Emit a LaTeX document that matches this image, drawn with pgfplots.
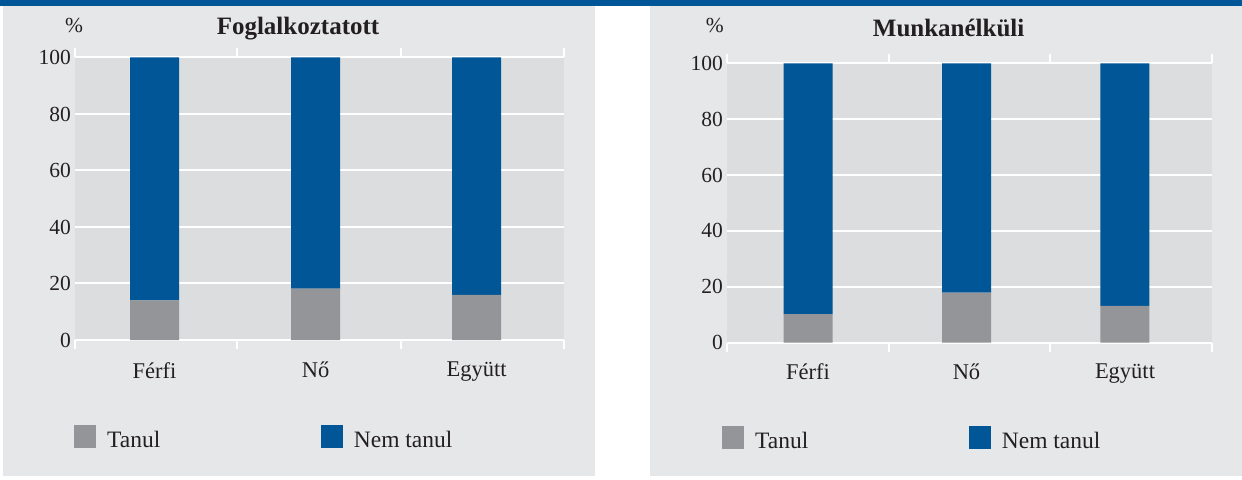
\documentclass[border=0pt]{standalone}
\usepackage{fontspec}
\setmainfont{Liberation Serif}
\usepackage{pgfplots}
\pgfplotsset{compat=1.18}
\definecolor{mnbblue}{RGB}{0,86,151}
\definecolor{bargrey}{RGB}{147,149,152}
\definecolor{panelbg}{RGB}{230,231,233}
\definecolor{plotbg}{RGB}{220,221,223}
\definecolor{txt}{RGB}{35,31,32}

\pgfplotsset{
  mystyle/.style={
    scale only axis,
    ybar stacked,
    bar width=49bp,
    ymin=0, ymax=100,
    ytick={0,20,40,60,80,100},
    ymajorgrids,
    grid style={white, line width=2bp},
    axis line style={draw=none},
    axis background/.style={fill=plotbg},
    ytick style={draw=none},
    xtick style={draw=none},
    major tick length=0pt,
    tick align=outside,
    xtick={0,1,2},
    xticklabels={Férfi,Nő,Együtt},
    extra x tick labels={},
    extra x tick style={major tick length=9bp, xtick style={draw=white, line width=2bp}, grid=none},
    /pgf/number format/assume math mode=true,
    yticklabel style={font=\fontsize{21.5bp}{25bp}\selectfont, anchor=east, inner sep=0pt, xshift=-4bp, text=txt},
    xticklabel style={font=\fontsize{22.5bp}{26bp}\selectfont, anchor=north, inner sep=0pt, text=txt},
    every axis title shift=0pt,
    title style={font=\bfseries\fontsize{25bp}{29bp}\selectfont, anchor=center, text=txt, inner sep=0pt, yshift=0pt},
    every axis y label/.style={font=\fontsize{21.5bp}{25bp}\selectfont, anchor=center, text=txt, inner sep=0pt},
    ylabel={\%},
    legend columns=2,
    legend cell align=left,
    legend style={draw=none, fill=none, inner sep=0pt, anchor=south west,
      font=\fontsize{23.5bp}{27bp}\selectfont,
      nodes={inner sep=0pt, text=txt},
      /tikz/every odd column/.append style={column sep=11bp},
      /tikz/every even column/.append style={column sep=160.5bp}},
    legend image code/.code={\fill[##1] (0bp,-7.8bp) rectangle (22bp,15.2bp);},
  }
}

\begin{document}
\begin{tikzpicture}
\useasboundingbox (0,0) rectangle (1242bp,480bp);
\fill[white] (0,0) rectangle (1242bp,480bp);
\fill[mnbblue] (0,474bp) rectangle (1242bp,480bp);
\fill[panelbg] (3bp,4bp) rectangle (595bp,474bp);
\fill[panelbg] (650bp,4bp) rectangle (1242bp,474bp);

\begin{axis}[mystyle,
  at={(75bp,140bp)}, anchor=south west,
  width=489bp, height=282.5bp,
  xmin=-0.494, xmax=2.543,
  extra x ticks={-0.493,0.512,1.531,2.542},
  xticklabel style={yshift=-22bp},
  title={Foglalkoztatott},
  title style={at={(axis description cs:0.456,1.104)}},
  every axis y label/.append style={at={(axis description cs:-0.002,1.115)}},
  legend style={at={(axis description cs:-0.002,-0.386)}},
]
\addplot+[fill=bargrey, draw=none] coordinates {(0,14.0) (1,18.2) (2,16.0)};
\addplot+[fill=mnbblue, draw=none] coordinates {(0,86.0) (1,81.8) (2,84.0)};
\legend{Tanul, Nem tanul}
\end{axis}

\begin{axis}[mystyle,
  at={(727bp,137.3bp)}, anchor=south west,
  width=485bp, height=279.4bp,
  xmin=-0.511, xmax=2.549,
  extra x ticks={-0.510,0.511,1.527,2.548},
  xticklabel style={yshift=-21bp},
  title={Munkanélküli},
  title style={at={(axis description cs:0.457,1.126)}},
  every axis y label/.append style={at={(axis description cs:-0.025,1.137)}},
  legend style={at={(axis description cs:-0.0103,-0.384)}},
]
\addplot+[fill=bargrey, draw=none] coordinates {(0,10.2) (1,17.9) (2,13.2)};
\addplot+[fill=mnbblue, draw=none] coordinates {(0,89.8) (1,82.1) (2,86.8)};
\legend{Tanul, Nem tanul}
\end{axis}
\end{tikzpicture}
\end{document}
